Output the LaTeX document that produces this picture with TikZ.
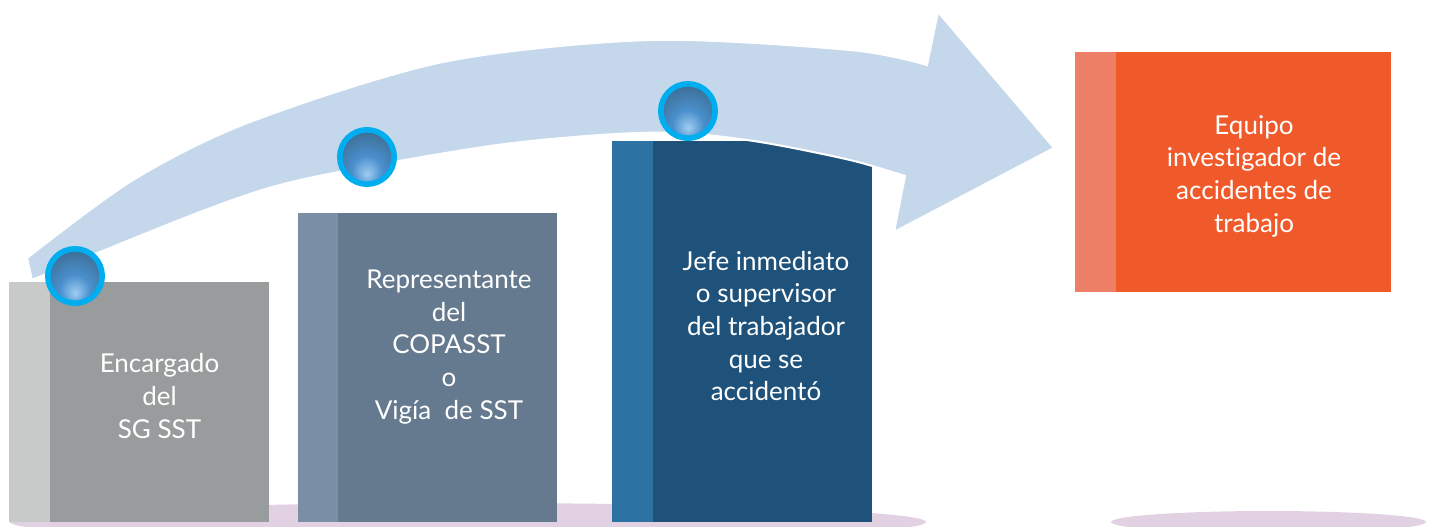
\documentclass[tikz,border=0pt]{standalone}
\usepackage{fontspec}
\setsansfont{Lato}[Ligatures=NoCommon]
\usepackage{tikz}
\usepackage{xcolor}

\definecolor{graystripe}{HTML}{C8CACA}
\definecolor{graymain}{HTML}{999C9D}
\definecolor{slatestripe}{HTML}{7A8FA6}
\definecolor{slatemain}{HTML}{657A8E}
\definecolor{navystripe}{HTML}{2C73A4}
\definecolor{navymain}{HTML}{1F527B}
\definecolor{orangestripe}{HTML}{EC7F65}
\definecolor{orangemain}{HTML}{F05A2A}
\definecolor{arrowblue}{HTML}{C5D8EB}
\definecolor{ringcyan}{HTML}{00AEEF}
\definecolor{floorlilac}{HTML}{E2D1E3}
\definecolor{orbhi}{HTML}{9FCDF2}
\definecolor{orbmid}{HTML}{4A8FCC}
\definecolor{orblo}{HTML}{37617F}

\pgfdeclareradialshading{orbshade}{\pgfpoint{0bp}{-16bp}}{color(0bp)=(orbhi); color(14bp)=(orbmid); color(40bp)=(orblo); color(70bp)=(orblo)}

\begin{document}
\begin{tikzpicture}[x=0.75pt,y=-0.75pt,
	lbl/.style={text=white,font=\sffamily\fontsize{19.5}{24.5}\selectfont,align=center,inner sep=0pt},
	orb/.style={circle,shade,shading=orbshade,draw=ringcyan,line width=4.2pt,minimum size=40.8pt,inner sep=0pt}]
			\clip (0,0) rectangle (1434,527);

			% sombras del piso
			\fill[floorlilac] (468,522) ellipse (458 and 19);
			\fill[floorlilac] (1268.5,522) ellipse (157.5 and 11);

			% escalones
			\fill[graystripe] (9,282) rectangle (50,522);
			\fill[graymain] (50,282) rectangle (269,522);
			\fill[slatestripe] (298,213) rectangle (338,522);
			\fill[slatemain] (338,213) rectangle (557,522);
			\fill[navystripe] (612,141) rectangle (653,522);
			\fill[navymain] (653,141) rectangle (872,522);
			\fill[orangestripe] (1075,52) rectangle (1116,292);
			\fill[orangemain] (1116,52) rectangle (1391,292);

			% flecha curva
			\filldraw[fill=arrowblue,draw=white,line width=1.5pt]
				(27,258) -- plot[smooth] coordinates {(27,258) (133,180) (250,122) (443,62) (650,40) (850,50) (927,65)}
				-- (938,12) -- (1054,148) -- (894,232)
				-- plot[smooth] coordinates {(905,176) (850,160) (760,142) (680,133) (600,135) (483,147) (300,180) (200,212) (32,280)}
				-- cycle;

			% textos
			\node[lbl] (encargado) at (159.5,396) {Encargado\\del\\SG SST};
			\node[lbl] (representante) at (449,347) {Representante\\del\\COPASST\\o\\Vigía\ \ de SST};
			\node[lbl] (jefe) at (766,326) {Jefe inmediato\\o supervisor\\del trabajador\\que se\\accidentó};
			\node[lbl] (equipo) at (1254,176) {Equipo\\investigador de\\accidentes de\\trabajo};

			% esferas
			\node[orb] (orbA) at (75,276) {};
			\node[orb] (orbB) at (367,157) {};
			\node[orb] (orbC) at (688,111) {};
		\end{tikzpicture}
\end{document}
